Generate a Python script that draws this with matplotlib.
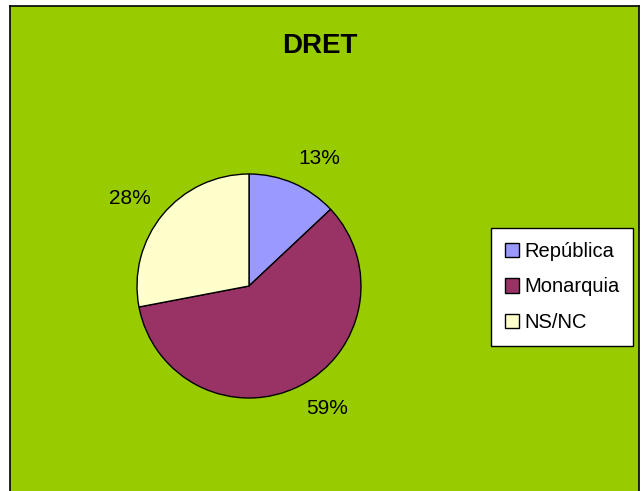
import matplotlib.pyplot as plt

labels = ['República', 'Monarquia', 'NS/NC']
values = [13, 59, 28]
colors = ['#9999FF', '#993366', '#FFFFCC']

plt.rcParams['font.family'] = ['Liberation Sans', 'DejaVu Sans']

W, H = 642, 491
fig = plt.figure(figsize=(W / 100, H / 100), dpi=100)
fig.patch.set_facecolor('white')

# green chart area with black border
bg = fig.add_axes([10 / W, -0.01, 629 / W, 1 - 6 / H + 0.01], zorder=-1)
bg.set_facecolor('#99CC00')
bg.set_xticks([])
bg.set_yticks([])
for s in bg.spines.values():
    s.set_color('black')
    s.set_linewidth(1.2)

fig.text(320 / W, 1 - 46 / H, 'DRET', ha='center', va='center',
         fontsize=20, fontweight='bold')

cx, cy, r = 249, 286, 112
ax = fig.add_axes([(cx - r) / W, (H - cy - r) / H, 2 * r / W, 2 * r / H])
wedges, texts, autotexts = ax.pie(values, colors=colors, startangle=90, counterclock=False,
                                  autopct='%1.0f%%', pctdistance=1.3,
                                  wedgeprops=dict(edgecolor='black', linewidth=1.0),
                                  textprops=dict(fontsize=15))
# excel puts the labels a bit off the wedge bisector (label centres, pixels)
label_px = [(319, 158), (327, 408), (130, 198)]
for t, (px, py) in zip(autotexts, label_px):
    t.set_position(((px - cx) / r, (cy - py) / r))
    t.set_ha('center')
    t.set_va('center')
ax.set_xlim(-1, 1)
ax.set_ylim(-1, 1)
ax.set_aspect('equal')
ax.axis('off')

leg = fig.legend(wedges, labels, loc='center', bbox_to_anchor=(562 / W, 1 - 287 / H),
                 frameon=True, fancybox=False, edgecolor='black', framealpha=1,
                 facecolor='white', fontsize=14.5,
                 handlelength=0.7, handleheight=0.7, handletextpad=0.25,
                 labelspacing=0.8, borderpad=0.7, borderaxespad=0)
leg.get_frame().set_linewidth(1.0)

fig.savefig('out.png', dpi=100)
